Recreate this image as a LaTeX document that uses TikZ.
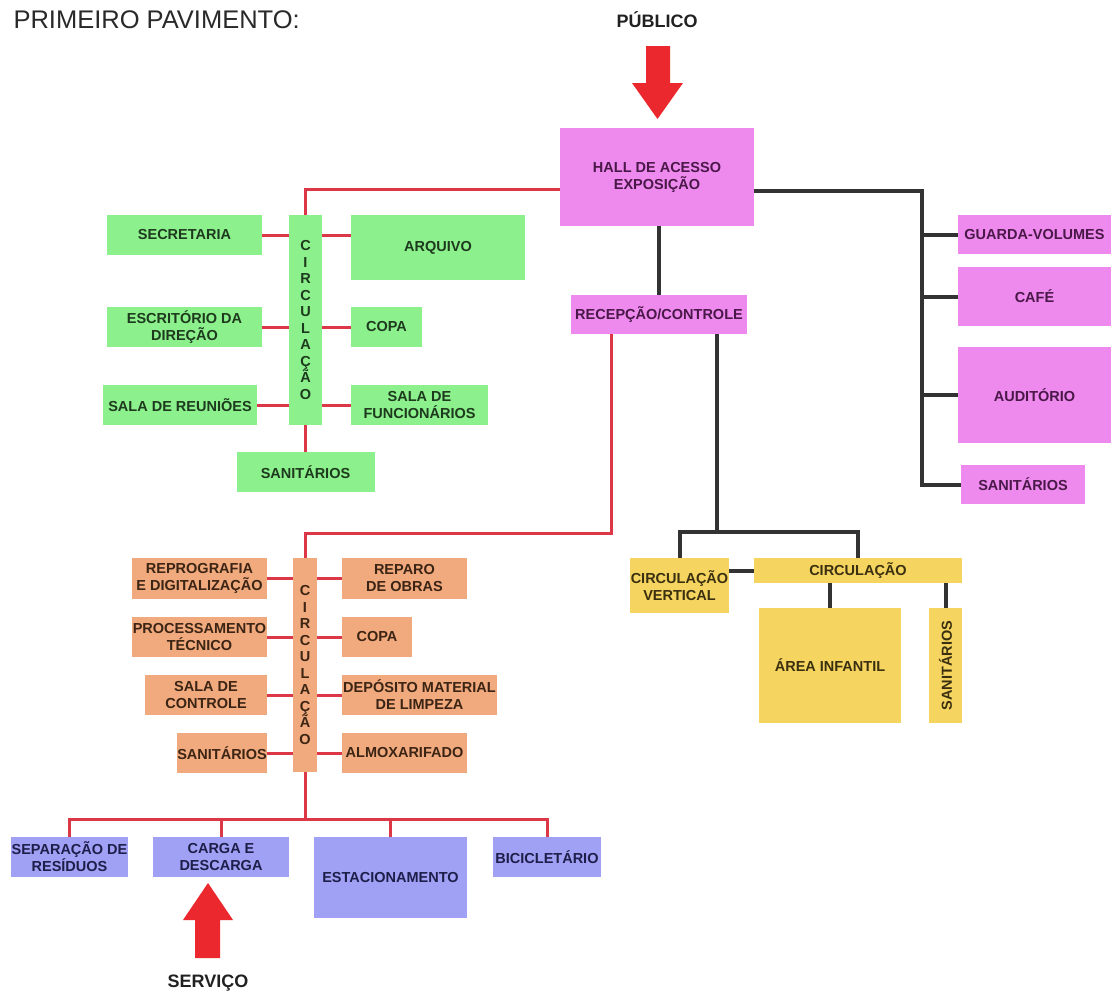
\documentclass[tikz,border=0pt]{standalone}
\usepackage{fontspec}
\setmainfont{Liberation Sans}

\definecolor{pinkfill}{HTML}{EE8AEE}
\definecolor{pinktext}{HTML}{4A1848}
\definecolor{greenfill}{HTML}{8CF08C}
\definecolor{greentext}{HTML}{1E3A1E}
\definecolor{orangefill}{HTML}{F0AA7D}
\definecolor{orangetext}{HTML}{3C2414}
\definecolor{yellowfill}{HTML}{F5D45F}
\definecolor{yellowtext}{HTML}{3A3010}
\definecolor{bluefill}{HTML}{A0A0F5}
\definecolor{bluetext}{HTML}{1E1E4A}
\definecolor{linered}{HTML}{DC3746}
\definecolor{lineblack}{HTML}{333333}
\definecolor{arrowred}{HTML}{EB282D}

\newcommand{\roomfont}{\bfseries\fontsize{14.5}{17}\selectfont}
\newcommand{\stackfont}{\bfseries\fontsize{14.5}{16.5}\selectfont}

\begin{document}
\begin{tikzpicture}[x=1pt, y=-1pt,
        room/.style={rectangle, inner sep=0pt, align=center, font=\roomfont},
        pinkbox/.style={room, fill=pinkfill, text=pinktext},
        greenbox/.style={room, fill=greenfill, text=greentext},
        orangebox/.style={room, fill=orangefill, text=orangetext},
        yellowbox/.style={room, fill=yellowfill, text=yellowtext},
        bluebox/.style={room, fill=bluefill, text=bluetext},
        size/.style 2 args={minimum width=#1pt, minimum height=#2pt},
        redline/.style={line width=3pt, draw=linered},
        blackline/.style={line width=4pt, draw=lineblack},
        bigarrow/.style={fill=arrowred},
        access/.style={font=\bfseries\fontsize{18}{20}\selectfont, text=black!87}
    ]
        \useasboundingbox (0,0) rectangle (1112,996);

        \node[anchor=base west, font=\fontsize{25.5}{30}\selectfont, text=black!84] (title) at (10,28) {PRIMEIRO PAVIMENTO:};

        % acesso publico
        \node[access, anchor=base] (publico) at (657,27) {PÚBLICO};
        \fill[bigarrow] (646,46) -- (670,46) -- (670,83) -- (683,83) -- (657.5,119) -- (632,83) -- (646,83) -- cycle;

        \node[pinkbox, size={194}{98}]  (hall)   at (657,177)    {HALL DE ACESSO\\EXPOSIÇÃO};
        \node[pinkbox, size={176}{39}]  (recep)  at (659,314.5)  {RECEPÇÃO/CONTROLE};
        \node[pinkbox, size={153}{39}]  (guarda) at (1034.5,234.5) {GUARDA-VOLUMES};
        \node[pinkbox, size={153}{59}]  (cafe)   at (1034.5,296.5) {CAFÉ};
        \node[pinkbox, size={153}{96}]  (audit)  at (1034.5,395)   {AUDITÓRIO};
        \node[pinkbox, size={124}{39}]  (sanpub) at (1023,484.5)   {SANITÁRIOS};

        % setor administrativo
        \node[greenbox, size={33}{210}, font=\stackfont] (circA) at (305.5,320) {C\\I\\R\\C\\U\\L\\A\\Ç\\Ã\\O};
        \node[greenbox, size={155}{40}] (secret)  at (184.5,235) {SECRETARIA};
        \node[greenbox, size={174}{65}] (arquivo) at (438,247.5) {ARQUIVO};
        \node[greenbox, size={155}{40}] (escrit)  at (184.5,327) {ESCRITÓRIO DA\\DIREÇÃO};
        \node[greenbox, size={71}{40}]  (copaA)   at (386.5,327) {COPA};
        \node[greenbox, size={154}{40}] (reun)    at (180,405)   {SALA DE REUNIÕES};
        \node[greenbox, size={137}{40}] (func)    at (419.5,405) {SALA DE\\FUNCIONÁRIOS};
        \node[greenbox, size={138}{40}] (sanA)    at (305.5,472) {SANITÁRIOS};

        % setor tecnico
        \node[orangebox, size={24}{214}, font=\stackfont] (circB) at (305,665) {C\\I\\R\\C\\U\\L\\A\\Ç\\Ã\\O};
        \node[orangebox, size={135}{41}] (repro)    at (199.5,578.5) {REPROGRAFIA\\E DIGITALIZAÇÃO};
        \node[orangebox, size={125}{41}] (reparo)   at (404.5,578.5) {REPARO\\DE OBRAS};
        \node[orangebox, size={135}{40}] (proc)     at (199.5,637)   {PROCESSAMENTO\\TÉCNICO};
        \node[orangebox, size={70}{40}]  (copaB)    at (377,637)     {COPA};
        \node[orangebox, size={122}{40}] (salactrl) at (206,695)     {SALA DE\\CONTROLE};
        \node[orangebox, size={155}{40}] (deposito) at (419.5,695)   {DEPÓSITO MATERIAL\\DE LIMPEZA};
        \node[orangebox, size={90}{40}]  (sanB)     at (222,753)     {SANITÁRIOS};
        \node[orangebox, size={125}{40}] (almox)    at (404.5,753)   {ALMOXARIFADO};

        % area infantil
        \node[yellowbox, size={99}{55}]  (circvert) at (679.5,585.5) {CIRCULAÇÃO\\VERTICAL};
        \node[yellowbox, size={208}{25}] (circC)    at (858,570.5)   {CIRCULAÇÃO};
        \node[yellowbox, size={142}{115}] (infantil) at (830,665.5)  {ÁREA INFANTIL};
        \node[yellowbox, size={33}{115}] (sanC)     at (945.5,665.5) {\rotatebox{90}{SANITÁRIOS}};

        % servicos externos
        \node[bluebox, size={117}{40}] (separ) at (69.5,857)   {SEPARAÇÃO DE\\RESÍDUOS};
        \node[bluebox, size={136}{40}] (carga) at (221,857)    {CARGA E\\DESCARGA};
        \node[bluebox, size={153}{81}] (estac) at (390.5,877.5) {ESTACIONAMENTO};
        \node[bluebox, size={108}{40}] (bici)  at (547,857)    {BICICLETÁRIO};

        % acesso servico
        \fill[bigarrow] (195,958) -- (220,958) -- (220,920) -- (233,920) -- (208,883) -- (183,920) -- (195,920) -- cycle;
        \node[access, anchor=base] (servico) at (208,987) {SERVIÇO};

        \coordinate (busR) at (922,0);
        \coordinate (bendB) at (305,533);
        \coordinate (busB) at (305,819);
        \coordinate (busC) at (717,532);

        % ligacoes em vermelho
        \draw[redline] ([yshift=-12pt]hall.west) -| (circA.north);
        \draw[redline] (secret.east) -- (secret.east -| circA.west);
        \draw[redline] (circA.east |- secret) -- (arquivo.west |- secret);
        \draw[redline] (escrit.east) -- (escrit.east -| circA.west);
        \draw[redline] (circA.east |- copaA) -- (copaA.west);
        \draw[redline] (reun.east) -- (reun.east -| circA.west);
        \draw[redline] (circA.east |- func) -- (func.west);
        \draw[redline] (circA.south) -- (sanA.north);

        \draw[redline] ([xshift=-48pt]recep.south) |- (bendB) -- (circB.north);
        \draw[redline] (repro.east) -- (repro.east -| circB.west);
        \draw[redline] (circB.east |- reparo) -- (reparo.west);
        \draw[redline] (proc.east) -- (proc.east -| circB.west);
        \draw[redline] (circB.east |- copaB) -- (copaB.west);
        \draw[redline] (salactrl.east) -- (salactrl.east -| circB.west);
        \draw[redline] (circB.east |- deposito) -- (deposito.west);
        \draw[redline] (sanB.east) -- (sanB.east -| circB.west);
        \draw[redline] (circB.east |- almox) -- (almox.west);

        \draw[redline] (circB.south) -- (busB);
        \draw[redline] (separ.north) |- (bici.north |- busB) -- (bici.north);
        \draw[redline] (carga.north) -- (carga.north |- busB);
        \draw[redline] (estac.north) -- (estac.north |- busB);

        % ligacoes em preto
        \draw[blackline] ([yshift=-14pt]hall.east) -| (busR |- sanpub) -- (sanpub.west);
        \draw[blackline] (busR |- guarda) -- (guarda.west);
        \draw[blackline] (busR |- cafe) -- (cafe.west);
        \draw[blackline] (busR |- audit) -- (audit.west);
        \draw[blackline] (recep.north |- hall.south) -- (recep.north);

        \draw[blackline] ([xshift=58pt]recep.south) -- (busC);
        \draw[blackline] (circvert.north) |- (circC.north |- busC) -- (circC.north);
        \draw[blackline] (circvert.east |- circC) -- (circC.west);
        \draw[blackline] (infantil.north) -- (infantil.north |- circC.south);
        \draw[blackline] (sanC.north) -- (sanC.north |- circC.south);
    \end{tikzpicture}
\end{document}
